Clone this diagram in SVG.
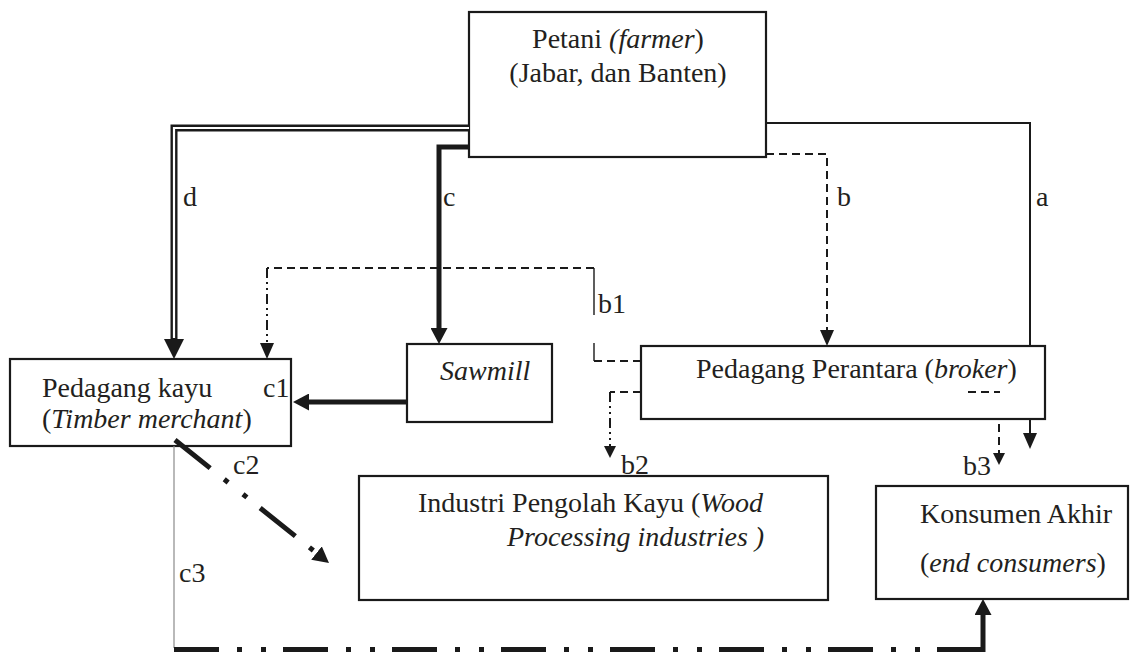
<svg xmlns="http://www.w3.org/2000/svg" width="1130" height="652" viewBox="0 0 1130 652">
<style>
  .box { fill: #ffffff; stroke: #1a1a1a; stroke-width: 2.2; }
  .t { font-family: "Liberation Serif", "Times New Roman", serif; font-size: 28px; fill: #231f20; }
  .i { font-style: italic; }
  .thin { fill: none; stroke: #1a1a1a; stroke-width: 2; }
  .dash { fill: none; stroke: #1a1a1a; stroke-width: 2; stroke-dasharray: 8 5; }
  .dashdot { fill: none; stroke: #1a1a1a; stroke-width: 2; stroke-dasharray: 10 4 2 4 2 4; }
  .thick { fill: none; stroke: #1a1a1a; stroke-width: 5; }
  .thickdd { fill: none; stroke: #1a1a1a; stroke-width: 5; stroke-dasharray: 45 18 5 19 5 17; }
  .hair { fill: none; stroke: #8a8a8a; stroke-width: 1.2; }
</style>
<defs>
  <marker id="ahBig" markerUnits="userSpaceOnUse" markerWidth="20" markerHeight="20" refX="0" refY="10" orient="auto">
    <path d="M0,0 L20,10 L0,20 z" fill="#1a1a1a" stroke="none"/>
  </marker>
  <marker id="ahThick" markerUnits="userSpaceOnUse" markerWidth="16" markerHeight="17" refX="0" refY="8.5" orient="auto">
    <path d="M0,0 L16,8.5 L0,17 z" fill="#1a1a1a" stroke="none"/>
  </marker>
  <marker id="ahMed" markerUnits="userSpaceOnUse" markerWidth="16" markerHeight="14" refX="0" refY="7" orient="auto">
    <path d="M0,0 L16,7 L0,14 z" fill="#1a1a1a" stroke="none"/>
  </marker>
  <marker id="ahSmall" markerUnits="userSpaceOnUse" markerWidth="12" markerHeight="12" refX="0" refY="6" orient="auto">
    <path d="M0,0 L12,6 L0,12 z" fill="#1a1a1a" stroke="none"/>
  </marker>
</defs>

<g id="petani">
  <rect class="box" x="469" y="12" width="297" height="145"/>
  <text class="t" x="618" y="48" text-anchor="middle">Petani <tspan class="i">(farmer</tspan>)</text>
  <text class="t" x="618" y="82" text-anchor="middle">(Jabar, dan Banten)</text>
</g>

<g id="timber-merchant">
  <rect class="box" x="10" y="359" width="281" height="87"/>
  <text class="t" x="42" y="397">Pedagang kayu</text>
  <text class="t" x="263" y="397">c1</text>
  <text class="t" x="42" y="428">(<tspan class="i">Timber merchant</tspan>)</text>
</g>

<g id="sawmill">
  <rect class="box" x="407" y="344" width="145" height="78"/>
  <text class="t i" x="440" y="380">Sawmill</text>
</g>

<g id="broker">
  <rect class="box" x="641" y="346" width="404" height="73"/>
  <text class="t" x="696" y="378">Pedagang Perantara (<tspan class="i">broker</tspan>)</text>
</g>

<g id="industri">
  <rect class="box" x="359" y="476" width="469" height="124"/>
  <text class="t" x="418" y="512">Industri Pengolah Kayu (<tspan class="i">Wood</tspan></text>
  <text class="t i" x="507" y="546">Processing industries )</text>
</g>

<g id="konsumen">
  <rect class="box" x="876" y="486" width="252" height="113"/>
  <text class="t" x="920" y="523">Konsumen Akhir</text>
  <text class="t" x="920" y="572">(<tspan class="i">end consumers</tspan>)</text>
</g>

<g id="connectors">
  <!-- a -->
  <path class="thin" d="M766,123 H1030 V346"/>
  <path class="thin" d="M1030,419 V433" marker-end="url(#ahMed)"/>
  <!-- b -->
  <path class="dash" d="M766,154 H827 V330" marker-end="url(#ahMed)"/>
  <!-- c -->
  <path class="thick" d="M469,147 H439 V328" marker-end="url(#ahThick)"/>
  <!-- d (double line) -->
  <path fill="none" stroke="#1a1a1a" stroke-width="7" d="M469,128 H174 V339" marker-end="url(#ahBig)"/>
  <path fill="none" stroke="#ffffff" stroke-width="2.2" d="M469,128 H174 V338"/>
  <!-- sawmill to timber merchant -->
  <path class="thick" d="M407,402 H309" marker-end="url(#ahThick)"/>
  <!-- b1 -->
  <path class="dash" d="M594,268 H267"/>
  <path class="dashdot" d="M267,268 V343" marker-end="url(#ahMed)"/>
  <path class="thin" style="stroke-width:1.4" d="M594,268 V315 M594,343 V361"/>
  <path class="dash" d="M594,361 H641"/>
  <!-- b2 -->
  <path class="dash" d="M641,392 H610"/>
  <path class="dashdot" d="M610,392 V446" marker-end="url(#ahSmall)"/>
  <!-- b3 -->
  <path class="dash" d="M968,392 H1000"/>
  <path class="dash" d="M999,424 V453" marker-end="url(#ahSmall)"/>
  <!-- c2 -->
  <path class="thickdd" d="M175,440 L316.5,553" marker-end="url(#ahThick)"/>
  <!-- c3 -->
  <path class="hair" d="M174,446 V648"/>
  <path class="thickdd" style="stroke-width:6" d="M174,650 H983"/>
  <path class="thick" d="M983,652 V615" marker-end="url(#ahThick)"/>
</g>

<g id="labels">
  <text class="t" x="183" y="206">d</text>
  <text class="t" x="443" y="206">c</text>
  <text class="t" x="837" y="206">b</text>
  <text class="t" x="1036" y="206">a</text>
  <text class="t" x="598" y="313">b1</text>
  <text class="t" x="621" y="474">b2</text>
  <text class="t" x="963" y="475">b3</text>
  <text class="t" x="233" y="474">c2</text>
  <text class="t" x="179" y="582">c3</text>
</g>
</svg>
